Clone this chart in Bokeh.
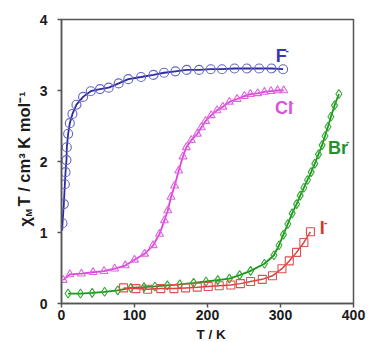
from bokeh.plotting import figure
from bokeh.layouts import row, column
from bokeh.models import Range1d, FixedTicker
from bokeh.core.properties import value
from bokeh.embed import file_html
from bokeh.resources import INLINE
from math import pi

# --- magnetic susceptibility data: chi_M*T (cm^3 K mol^-1) versus T (K) ---
F_T = [1.4, 3.2, 4.6, 5.5, 6.8, 7.3, 9.1, 11.4, 15, 20.5, 29.6, 40, 52.8, 64.6,
       78.3, 91.5, 109, 126, 140.5, 156, 171.5, 188.4, 204.4, 219.9, 237, 254,
       270.8, 287.7, 303.6]
F_chi = [1.13, 1.40, 1.68, 1.85, 2.02, 2.20, 2.39, 2.54, 2.67, 2.80, 2.91, 2.99,
         3.02, 3.04, 3.10, 3.16, 3.19, 3.22, 3.25, 3.27, 3.29, 3.29, 3.30, 3.30,
         3.31, 3.31, 3.31, 3.31, 3.30]
F_fit_start = (1.0, 1.03)

Cl_T = [2.3, 11.4, 27.3, 43.2, 58.2, 72.8, 87.4, 100, 113.8, 125.6, 134.3, 141,
        145.6, 150, 155, 160.5, 166.4, 171, 177.8, 186, 191.5, 197.4, 205, 213,
        221, 230, 240.5, 250.5, 258.7, 268.7, 278, 287, 296, 304.4]
Cl_chi = [0.33, 0.41, 0.42, 0.44, 0.455, 0.49, 0.535, 0.615, 0.70, 0.82, 0.98,
          1.17, 1.31, 1.50, 1.66, 1.87, 2.07, 2.20, 2.30, 2.39, 2.48, 2.57, 2.65,
          2.72, 2.77, 2.84, 2.88, 2.92, 2.95, 2.96, 2.98, 2.99, 3.00, 3.00]

Br_T = [9, 26, 42, 59, 77, 95, 113, 128, 145, 162, 181, 198, 214, 230, 244,
        259, 278, 291, 298, 304, 310, 316, 322, 327, 332, 337, 342, 347, 352,
        357, 361, 365, 369, 374, 380]
Br_chi = [0.14, 0.14, 0.15, 0.165, 0.185, 0.22, 0.23, 0.24, 0.255, 0.27, 0.29,
          0.31, 0.33, 0.35, 0.40, 0.46, 0.56, 0.68, 0.82, 0.97, 1.12, 1.27, 1.40,
          1.52, 1.63, 1.74, 1.85, 1.97, 2.10, 2.23, 2.36, 2.49, 2.63, 2.79, 2.95]

I_T = [85, 102, 118, 136, 154, 170, 186, 201, 216, 232, 245, 259, 275, 289,
       302, 312, 322, 332, 341]
I_chi = [0.22, 0.21, 0.20, 0.21, 0.21, 0.22, 0.23, 0.24, 0.25, 0.26, 0.28,
         0.31, 0.34, 0.39, 0.49, 0.60, 0.72, 0.86, 1.01]

# anion labels placed next to each curve (data coordinates of the letters' centre line)
ion_names = ["F", "Cl", "Br", "I"]
ion_x = [293.5, 292.6, 364.9, 353.6]
ion_y = [3.49, 2.76, 2.19, 1.06]
ion_colors = ["#3838b4", "#e04ede", "#23922a", "#d23a22"]

x_ticks = [0, 100, 200, 300, 400]
y_ticks = [0, 1, 2, 3, 4]

FONT = "Liberation Sans"
AX = "#555555"
INK = "#1a1a1a"

STRIP_W = 36          # width of the strip holding the vertical axis title
STRIP_H = 16          # height of the strip holding the horizontal axis title
MAIN_W = 369 - STRIP_W
MAIN_H = 342 - STRIP_H

# ---------------- main plot ----------------
p = figure(width=MAIN_W, height=MAIN_H, output_backend="svg",
           toolbar_location=None,
           x_range=Range1d(0, 400), y_range=Range1d(0, 4),
           min_border_left=60 - STRIP_W, min_border_right=16, min_border_top=19,
           min_border_bottom=MAIN_H - 19 - 284)
p.background_fill_color = "white"
p.border_fill_color = "white"
p.outline_line_color = AX
p.outline_line_width = 1.5
p.grid.visible = False

for ax in (p.xaxis[0], p.yaxis[0]):
    ax.axis_line_color = AX
    ax.axis_line_width = 1.5
    ax.major_tick_line_color = AX
    ax.major_tick_line_width = 1.5
    ax.major_tick_out = 4
    ax.major_tick_in = 0
    ax.minor_tick_line_color = None
    ax.major_label_text_font = FONT
    ax.major_label_text_font_style = "bold"
    ax.major_label_text_font_size = "14px"
    ax.major_label_text_color = INK
    ax.axis_label = None

p.xaxis[0].ticker = FixedTicker(ticks=x_ticks)
p.yaxis[0].ticker = FixedTicker(ticks=y_ticks)
p.xaxis[0].major_label_standoff = 2
p.yaxis[0].major_label_standoff = 10

# fitted curves with hollow data markers
p.line([F_fit_start[0]] + F_T, [F_fit_start[1]] + F_chi, line_color="#2c2c9c",
       line_width=1.8)
p.scatter(F_T, F_chi, marker="circle", size=9, fill_color=None,
          line_color="#6464cc", line_width=1.1)

p.line(Cl_T, Cl_chi, line_color="#dd44dd", line_width=1.8)
p.scatter(Cl_T, Cl_chi, marker="triangle", size=8, fill_color=None,
          line_color="#e066e0", line_width=1.1)

p.line(Br_T, Br_chi, line_color="#1a961a", line_width=1.8)
p.scatter(Br_T, Br_chi, marker="diamond", size=9, fill_color=None,
          line_color="#33aa33", line_width=1.1)

p.line(I_T, I_chi, line_color="#d84040", line_width=1.5)
p.scatter(I_T, I_chi, marker="square", size=8, fill_color=None,
          line_color="#e05050", line_width=1.1)

# ion symbols and their small superscript minus signs
p.text(x=ion_x, y=ion_y, text=ion_names, text_color=ion_colors,
       text_font=value(FONT), text_font_style="bold", text_font_size="18px",
       text_align="left", text_baseline="middle")
p.text(x=ion_x, y=ion_y, text=["-"] * 4, text_color=ion_colors,
       x_offset=[11.5, 16.7, 19.7, 6], y_offset=[-5.5, -5.4, -6.8, -6.3],
       text_font=value(FONT), text_font_style="bold", text_font_size="10px",
       text_align="center", text_baseline="middle")

# ---------------- y-axis title strip ----------------
ylab = figure(width=STRIP_W, height=342, output_backend="svg",
              toolbar_location=None,
              x_range=Range1d(0, STRIP_W), y_range=Range1d(0, 342),
              x_axis_location=None, y_axis_location=None,
              min_border=0)
ylab.outline_line_color = None
ylab.grid.visible = False
ylab.text(x=[24.5], y=[116], text=["χ"], angle=pi / 2, text_color=INK,
          text_font=value(FONT), text_font_style="bold", text_font_size="16.5px",
          text_align="left", text_baseline="middle")
ylab.text(x=[28.5], y=[126], text=["M"], angle=pi / 2, text_color=INK,
          text_font=value(FONT), text_font_style="bold", text_font_size="9px",
          text_align="left", text_baseline="middle")
ylab.text(x=[23.5], y=[136], text=["T / cm³ K mol⁻¹"], angle=pi / 2,
          text_color=INK, text_font=value(FONT), text_font_style="bold",
          text_font_size="16.5px", text_align="left", text_baseline="middle")

# ---------------- x-axis title strip ----------------
xlab = figure(width=MAIN_W, height=STRIP_H, output_backend="svg",
              toolbar_location=None,
              x_range=Range1d(0, MAIN_W), y_range=Range1d(0, STRIP_H),
              x_axis_location=None, y_axis_location=None,
              min_border=0)
xlab.outline_line_color = None
xlab.grid.visible = False
xlab.text(x=[60 - STRIP_W + 146.5], y=[STRIP_H / 2], text=["T / K"],
          text_color=INK, text_font=value(FONT), text_font_style="bold",
          text_font_size="13.5px", text_align="center", text_baseline="middle")

layout = row(ylab, column(p, xlab))
open("out.html", "w").write(file_html(layout, INLINE))
